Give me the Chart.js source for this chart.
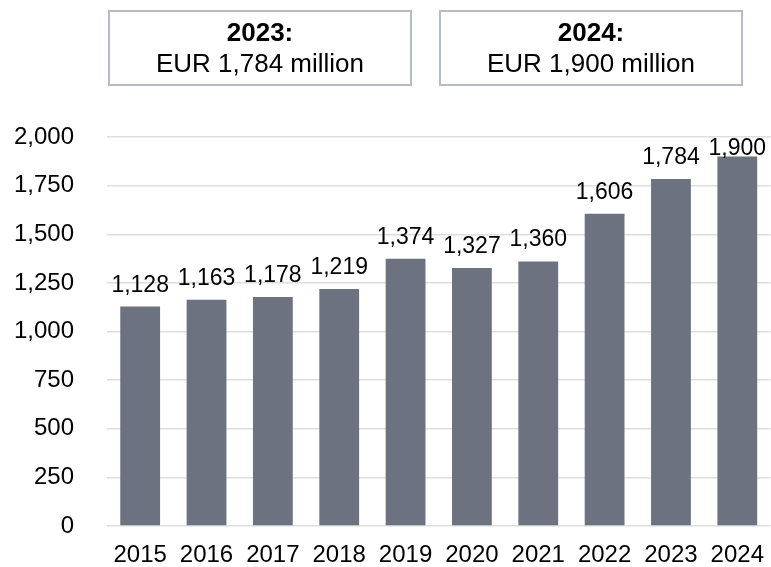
<!DOCTYPE html>
<html>
<head>
<meta charset="utf-8">
<script src="https://cdn.jsdelivr.net/npm/chart.js@4.4.1/dist/chart.umd.min.js"></script>
<style>
  html, body { margin: 0; padding: 0; background: #fff; }
  #wrap { position: relative; width: 771px; height: 567px; }
  #chartUmsatz { position: absolute; left: 0; top: 0; }
  .box {
    position: absolute; top: 10px; height: 76px; width: 304px;
    box-sizing: border-box; border: 2px solid #b8bcc4;
    font-family: "Liberation Sans", Arial, sans-serif; font-size: 26px;
    line-height: 31px; text-align: center; color: #000; padding-top: 5px;
  }
  .box b { display: block; }
</style>
</head>
<body>
<div id="wrap">
  <canvas id="chartUmsatz" width="771" height="567"></canvas>
  <div class="box" style="left:108px"><b>2023:</b>EUR 1,784 million</div>
  <div class="box" style="left:439px"><b>2024:</b>EUR 1,900 million</div>
</div>
<script>
const jahre = ['2015', '2016', '2017', '2018', '2019', '2020', '2021', '2022', '2023', '2024']
const umsatz = [1128, 1163, 1178, 1219, 1374, 1327, 1360, 1606, 1784, 1900]
const yTicks = [0, 250, 500, 750, 1000, 1250, 1500, 1750, 2000]

const fuente = '"Liberation Sans", Arial, sans-serif'
const formatear = v => v.toLocaleString('en-US')

// etiquetas de valor sobre cada barra
const etiquetas = {
    id: 'etiquetas',
    afterDatasetsDraw(chart) {
        const ctx = chart.ctx
        const meta = chart.getDatasetMeta(0)
        ctx.save()
        ctx.font = `23px ${fuente}`
        ctx.fillStyle = '#000'
        ctx.textAlign = 'center'
        ctx.textBaseline = 'alphabetic'
        meta.data.forEach((bar, i) => {
            const y = Math.max(bar.y - 15, chart.chartArea.top + 18)
            ctx.fillText(formatear(umsatz[i]), bar.x, y)
        })
        ctx.restore()
    }
}

const canvas = document.getElementById('chartUmsatz')
const context = canvas.getContext('2d')

const chartUmsatz = new Chart(context, {
    type: 'bar',
    data: {
        labels: jahre,
        datasets: [{
            data: umsatz,
            backgroundColor: '#6c7280',
            categoryPercentage: 1,
            barPercentage: 0.6
        }]
    },
    options: {
        responsive: false,
        animation: false,
        layout: { padding: { top: 137, left: 15, right: 0, bottom: 0 } },
        plugins: { legend: { display: false }, tooltip: { enabled: false } },
        scales: {
            x: {
                grid: { display: false },
                border: { display: false },
                afterFit: axis => { axis.height = 41 },
                ticks: { color: '#000', font: { family: fuente, size: 24 }, padding: 7, maxRotation: 0 }
            },
            y: {
                min: 0,
                max: 2000,
                afterBuildTicks: axis => { axis.ticks = yTicks.map(v => ({ value: v })) },
                afterFit: axis => {
                    axis.width = 92
                    axis.paddingTop = 0
                    axis.paddingBottom = 0
                },
                grid: { color: '#dedede', lineWidth: 1.5, drawTicks: false },
                border: { display: false },
                ticks: { color: '#000', font: { family: fuente, size: 24 }, padding: 33, callback: v => formatear(v) }
            }
        }
    },
    plugins: [etiquetas]
})
</script>
</body>
</html>
